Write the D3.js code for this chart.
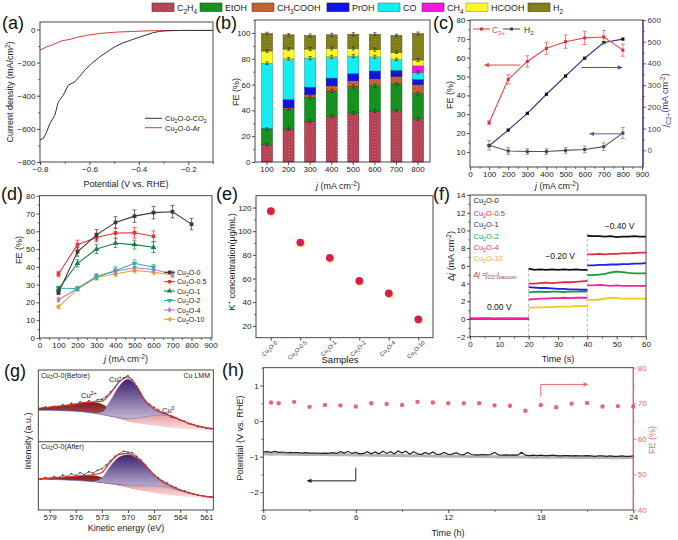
<!DOCTYPE html>
<html><head><meta charset="utf-8">
<script src="https://cdn.jsdelivr.net/npm/d3@7/dist/d3.min.js"></script>
<style>html,body{margin:0;padding:0;background:#fff;}svg{display:block}</style>
</head><body>
<svg id="fig" width="678" height="540"></svg>
<script>
// ======================= DATA =======================
// (a) LSV curves
const aPotCO2 = [-0.8,-0.787,-0.776,-0.76,-0.74,-0.726,-0.706,-0.686,-0.659,-0.639,-0.619,-0.592,-0.558,-0.518,-0.498,-0.464,-0.424,-0.384,-0.344,-0.317,-0.29,-0.223,-0.1];
const aJCO2   = [-665,-659,-629,-568,-518,-437,-397,-337,-316,-282,-246,-206,-165,-125,-105,-81,-60,-40,-20,-12,-8,-6,-6];
const aPotAr  = [-0.8,-0.773,-0.746,-0.713,-0.679,-0.652,-0.612,-0.558,-0.491,-0.424,-0.357,-0.223,-0.1];
const aJAr    = [-125,-105,-91,-69,-60,-48,-36,-24,-16,-12,-8,-6,-6];

// (b) FE distribution (stacked)
const bCurrents = ["100","200","300","400","500","600","700","800"];
const bProducts = ["C2H4","EtOH","CH3COOH","PrOH","CO","CH4","HCOOH","H2"];
const bProductLabels = ["C_{2}H_{4}","EtOH","CH_{3}COOH","PrOH","CO","CH_{4}","HCOOH","H_{2}"];
const bC2H4    = [13.5,25.5,31.5,35.5,38,39.5,40,33.5];
const bEtOH    = [12,15.5,18.5,19.5,20.5,19.5,20.5,19.5];
const bCH3COOH = [0.5,1,2.5,4,4.5,5.5,6,7];
const bPrOH    = [0,6.5,5.5,6,5.5,6,4.5,4];
const bCO      = [50.5,31.5,22.5,16.5,13.5,11,8.5,5.5];
const bCH4     = [0,0,0,0,0,0,0,5];
const bHCOOH   = [9.5,7.5,7,6.5,6,5.5,5.5,4.5];
const bH2      = [13.5,11,10.5,10.5,11,12,13,20.5];
const bErr     = [1,1,1.2,1.2,1.2,1.2,1,1.2];

// (c) C2+ FE, H2 FE, partial current density
const cCurrents = [100,200,300,400,500,600,700,800];
const cFEC2     = [25.5,48.5,58,65,68.5,70.5,71,64];
const cFEC2Err  = [1,2.5,3,3.2,3.5,3.5,3.5,3.2];
const cFEH2     = [13.5,10.5,10.2,10.2,10.8,11.3,12.8,20];
const cFEH2Err  = [2.5,1.8,1.5,1.5,1.5,1.8,2,3];
const cJC2      = [21,93,170,258,342,424,496,512];

// (d) C2+ FE for the catalysts
const dLabels = ["Cu_{2}O-0","Cu_{2}O-0.5","Cu_{2}O-1","Cu_{2}O-2","Cu_{2}O-4","Cu_{2}O-10"];
const dX0   = [100,200,300,400,500,600,700,800];
const dFE0  = [25.5,48.5,58,65,68.5,70.5,71,64];
const dE0   = [1,2.5,3,3.2,3.5,3.5,3.5,3.2];
const dX05  = [100,200,300,400,500,600];
const dFE05 = [36,52.5,56.5,59,59.2,57.2];
const dE05  = [1.5,2.5,2.5,2.8,3,3];
const dX1   = [100,200,300,400,500,600];
const dFE1  = [27.5,42,50,53.3,52.5,51];
const dE1   = [1.5,2,2.5,2.5,2.5,3];
const dX2   = [100,200,300,400,500,600];
const dFE2  = [28,27.8,34.5,38,42,39.8];
const dE2   = [1,1,1.5,2,2,1.5];
const dX4   = [100,200,300,400,500,600,700];
const dFE4  = [21.5,27.8,34.5,37.5,39.5,38.5,36];
const dE4   = [1,1,1.5,2,2,1.5,1.5];
const dX10  = [100,200,300,400,500,600,700];
const dFE10 = [17.5,27.5,34,36,38,37,35.5];
const dE10  = [1,1,1.5,1.5,1.5,1.5,1.5];

// (e) K+ concentration
const eSamples = ["Cu_{2}O-0","Cu_{2}O-0.5","Cu_{2}O-1","Cu_{2}O-2","Cu_{2}O-4","Cu_{2}O-10"];
const eK = [117,90.5,77.5,58,47.5,25.5];

// (f) current difference vs time (three potential steps)
const fTimes = [0,2,4,6,8,10,12,14,16,18,20, 20,22,24,26,28,30,32,34,36,38,40, 40,42,44,46,48,50,52,54,56,58,60];
const fCu0  = [0.03,0.01,0.02,0.04,0.02,0.01,0.03,0.02,0.01,0.02,0.03, 5.7,5.55,5.6,5.55,5.6,5.55,5.6,5.55,5.6,5.55,5.55, 9.4,9.35,9.35,9.3,9.35,9.25,9.3,9.3,9.35,9.3,9.3];
const fCu05 = [0.04,0.02,0.05,0.03,0.06,0.02,0.04,0.05,0.03,0.04,0.05, 4.0,4.0,4.05,4.1,4.05,4.1,4.15,4.15,4.2,4.25,4.3, 7.3,7.3,7.35,7.3,7.35,7.35,7.4,7.4,7.45,7.5,7.5];
const fCu1  = [0.02,0.04,0.03,0.05,0.02,0.03,0.02,0.04,0.03,0.02,0.03, 3.6,3.55,3.5,3.5,3.45,3.4,3.4,3.35,3.35,3.3,3.3, 6.05,6.05,6.1,6.1,6.15,6.15,6.2,6.2,6.25,6.25,6.3];
const fCu2  = [0.01,0.03,0.02,0.03,0.01,0.02,0.03,0.01,0.02,0.03,0.02, 3.0,3.05,3.1,3.05,3.1,3.1,3.05,3.1,3.1,3.1,3.1, 4.95,4.95,5.0,5.1,5.25,5.35,5.3,5.2,5.15,5.15,5.15];
const fCu4  = [0.05,0.03,0.06,0.04,0.05,0.07,0.04,0.05,0.06,0.04,0.05, 2.2,2.25,2.3,2.3,2.35,2.35,2.4,2.35,2.4,2.4,2.4, 3.8,3.8,3.85,3.8,3.75,3.8,3.75,3.75,3.75,3.75,3.75];
const fCu10 = [0.02,0.01,0.03,0.02,0.01,0.02,0.01,0.03,0.02,0.01,0.02, 1.25,1.3,1.3,1.35,1.35,1.4,1.4,1.4,1.45,1.45,1.45, 2.15,2.15,2.2,2.3,2.4,2.35,2.3,2.3,2.3,2.3,2.3];
const fStepLabels = ["0.00 V","−0.20 V","−0.40 V"];

// (g) Cu LMM Auger spectra (component fits on a 1 eV grid)
const gE = [581,580,579,578,577,576,575,574,573,572,571,570,569,568,567,566,565,564,563,562,561,560];
const gBgBefore  = [44,44,43.8,43.5,43,42.5,41.5,40,37.5,35,32,29,26.5,24.5,22.5,21,19.5,18.5,17.5,17,16.5,16];
const gCu2Before = [2,3,4.5,6,8,10,13,15,15,10,6,3,1,0,0,0,0,0,0,0,0,0];
const gCu1Before = [0,0,0,0,0,0,0,0,4,22,44,55,44,22,9,3,1,0,0,0,0,0];
const gCu0Before = [0,0,0,0,0,0,0,0,0,0.5,1.5,3,6,10,14,16,15.5,12,8,5,3,2];
const gBgAfter   = [45,45,44.8,44.5,44,43.5,42.5,41.5,40,38,35.5,33,30,27.5,25,23,21.5,20,19,18,17.5,17];
const gCu2After  = [1,1,2,3,4.5,6,8,9,8,6,4,2,1,0,0,0,0,0,0,0,0,0];
const gCu1After  = [0,0,0,0,0,0,0,1,7,26,40,45,41,30,16,7,2.5,1,0,0,0,0];
const gCu0After  = [0,0,0,0,0,0,0,0,0,0.5,2,3,5,8,10,11,10,8,6,4,2.5,1.5];
const gMeasBefore = [46.0,48.5,47.0,49.5,48.5,51.5,50.0,53.5,52.0,55.5,54.0,57.0,55.0,58.5,59.0,63.0,69.5,76.0,84.5,89.0,92.0,86.0,77.0,66.5,57.5,52.0,48.0,44.5,40.0,38.5,34.0,33.0,30.0,28.5,25.0,24.0,21.0,20.5,18.5,18.0,17.0];
const gMeasAfter  = [45.5,47.5,46.0,49.0,47.5,51.0,49.0,53.0,50.5,54.5,52.0,56.0,54.0,58.0,60.5,66.0,72.0,78.5,82.0,86.0,85.0,84.0,78.5,73.0,66.0,58.5,52.0,47.0,42.5,39.5,35.5,33.0,29.5,28.0,25.5,23.5,22.0,21.0,19.5,19.0,18.0];

// (h) stability test
const hPot = [-0.87,-0.86,-0.88,-0.85,-0.88,-0.87,-0.89,-0.88,
  -0.89,-0.89,-0.90,-0.89,-0.90,-0.90,-0.90,-0.91,
  -0.90,-0.91,-0.89,-0.91,-0.86,-0.90,-0.85,-0.91,
  -0.88,-0.92,-0.91,-0.86,-0.92,-0.87,-0.92,-0.85,
  -0.91,-0.86,-0.92,-0.84,-0.90,-0.85,-0.93,-0.86,
  -0.92,-0.94,-0.88,-0.93,-0.87,-0.94,-0.93,-0.88,
  -0.94,-0.93,-0.89,-0.94,-0.95,-0.88,-0.94,-0.95,
  -0.95,-0.94,-0.95,-0.94,-0.88,-0.95,-0.96,-0.95,
  -0.96,-0.95,-0.96,-0.88,-0.96,-0.97,-0.96,-0.97,
  -0.96,-0.97,-0.97,-0.96,-0.97,-0.98,-0.97,-0.97,
  -0.98,-0.97,-0.98,-0.98,-0.97,-0.98,-0.99,-0.98,
  -0.98,-0.99,-0.98,-0.99,-0.99,-0.98,-0.99,-0.99,-0.98];
const hPotLow = [-0.92,-0.93,-0.92,-0.93,-0.93,-0.94,-0.93,-0.94,-0.94,-0.95,
  -0.94,-0.95,-0.96,-0.95,-0.96,-0.96,-0.97,-0.96,-0.97,-0.98,
  -0.97,-0.98,-0.98,-0.99,-0.98,-0.99,-0.99,-1.00,-0.99,-1.00,
  -1.00,-1.01,-1.00,-1.01,-1.01,-1.02,-1.01,-1.02,-1.01,-1.02,
  -1.02,-1.03,-1.02,-1.03,-1.02,-1.03,-1.03,-1.03,-1.02];
const hFETime = [0.5,1,2,3,4,5,6,7,8,9,10,11,12,13,14,15,16,17,18,19,20,21,22,23,24];
const hFE     = [70.2,70.0,70.4,69.0,69.5,69.4,69.1,70.0,69.8,69.5,70.4,70.2,70.0,70.0,70.0,69.4,69.3,67.9,69.5,68.9,69.9,70.1,69.1,69.2,69.1];

// ======================= HELPERS =======================
const FONT = "'Liberation Sans', Arial, Helvetica, sans-serif";
const svg = d3.select('#fig');
svg.append('rect').attr('width',678).attr('height',540).attr('fill','#fff');
const defs = svg.append('defs');

function rich(g, x, y, str, fs, attrs) {
  const t = g.append('text').attr('x',x).attr('y',y).attr('font-size',fs).attr('font-family',FONT);
  if (attrs) for (const k in attrs) t.attr(k, attrs[k]);
  const re = /([_^~])\{([^}]*)\}/g;
  let last = 0, m, shift = 0;
  function add(s, type) {
    if (!s) return;
    const ts = t.append('tspan').text(s);
    const target = type === '_' ? fs*0.28 : type === '^' ? -fs*0.38 : 0;
    if (target !== shift) { ts.attr('dy', target - shift); shift = target; }
    if (type === '_' || type === '^') ts.attr('font-size', fs*0.72);
    if (type === '~') ts.attr('font-style','italic');
  }
  while ((m = re.exec(str))) { add(str.slice(last, m.index), ''); add(m[2], m[1]); last = re.lastIndex; }
  add(str.slice(last), '');
  return t;
}
function vlabel(g, cx, cy, str, fs, color) {
  return rich(g, 0, 0, str, fs, {transform:`translate(${cx + fs*0.35},${cy}) rotate(-90)`, 'text-anchor':'middle', fill: color||'#222'});
}
function frame(g, x0, y0, x1, y1, colorRight) {
  g.append('rect').attr('x',x0).attr('y',y0).attr('width',x1-x0).attr('height',y1-y0)
    .attr('fill','none').attr('stroke','#333').attr('stroke-width',0.9);
  if (colorRight) g.append('line').attr('x1',x1).attr('x2',x1).attr('y1',y0).attr('y2',y1)
    .attr('stroke',colorRight).attr('stroke-width',1.1);
}
function axis(g, scale, orient, pos, ticks, fmt, minor, color, fs) {
  color = color || '#222';
  const gen = orient==='left'?d3.axisLeft:orient==='right'?d3.axisRight:d3.axisBottom;
  const tr = orient==='bottom'?`translate(0,${pos})`:`translate(${pos},0)`;
  const a = g.append('g').attr('transform',tr)
    .call(gen(scale).tickValues(ticks).tickFormat(fmt||d3.format('')).tickSize(3).tickPadding(1.5).tickSizeOuter(0));
  a.select('.domain').remove();
  a.selectAll('text').attr('font-size',fs||8).attr('font-family',FONT).attr('fill',color);
  a.selectAll('line').attr('stroke',color).attr('stroke-width',0.8);
  if (minor) {
    const b = g.append('g').attr('transform',tr)
      .call(gen(scale).tickValues(minor).tickFormat('').tickSize(1.8).tickSizeOuter(0));
    b.select('.domain').remove();
    b.selectAll('line').attr('stroke',color).attr('stroke-width',0.7);
  }
  return a;
}
function head(g, x, y, ang, color, len, w) {
  len = len||5; w = w||2.2;
  const c=Math.cos(ang), s=Math.sin(ang);
  const bx=x-len*c, by=y-len*s;
  g.append('path').attr('d',`M${x},${y}L${bx - w*s},${by + w*c}L${bx + w*s},${by - w*c}Z`).attr('fill',color);
}
function plabel(x, y, s) {
  svg.append('text').attr('x',x).attr('y',y).attr('font-size',18).attr('font-family',FONT).attr('fill','#111').text(s);
}
function errbar(g, x, y0, y1, color, cap) {
  cap = cap || 2;
  g.append('path').attr('d',`M${x},${y0}V${y1}M${x-cap},${y0}H${x+cap}M${x-cap},${y1}H${x+cap}`)
    .attr('stroke',color).attr('stroke-width',0.7).attr('fill','none');
}

// ======================= TOP LEGEND =======================
const bColors = {C2H4:'#b23b4f', EtOH:'#15921f', CH3COOH:'#b5592a', PrOH:'#1212e6', CO:'#14eef2', CH4:'#f414e4', HCOOH:'#fafa2a', H2:'#7d7a16'};
const bStroke = {C2H4:'#6e1f2a', EtOH:'#0b5a10', CH3COOH:'#6e3415', PrOH:'#0a0a80', CO:'#0a8a8c', CH4:'#8a0a80', HCOOH:'#9a9a10', H2:'#444208'};
function speckle(id, base, dot) {
  const p = defs.append('pattern').attr('id',id).attr('patternUnits','userSpaceOnUse').attr('width',3).attr('height',3);
  p.append('rect').attr('width',3).attr('height',3).attr('fill',base);
  p.append('rect').attr('x',0).attr('y',0).attr('width',1).attr('height',1).attr('fill',dot);
  p.append('rect').attr('x',1.5).attr('y',1.5).attr('width',1).attr('height',1).attr('fill',dot);
}
speckle('patC2H4', bColors.C2H4, '#c96a78');
speckle('patCH3', bColors.CH3COOH, '#d88a52');
speckle('patH2', bColors.H2, '#9a9630');
const bFill = k => k==='C2H4'?'url(#patC2H4)':k==='CH3COOH'?'url(#patCH3)':k==='H2'?'url(#patH2)':bColors[k];
{
  const g = svg.append('g');
  const legX = [152,200,252,327,378,422,466,528];
  bProducts.forEach((k,i)=>{
    g.append('rect').attr('x',legX[i]).attr('y',3).attr('width',22).attr('height',8.5)
      .attr('fill',bFill(k)).attr('stroke',bStroke[k]).attr('stroke-width',0.6);
    rich(g, legX[i]+25, 11, bProductLabels[i], 9, {fill:'#222'});
  });
}

// ======================= (a) =======================
{
  const g = svg.append('g');
  const x = d3.scaleLinear().domain([-0.8,-0.1]).range([40,213]);
  const y = d3.scaleLinear().domain([-800,45]).range([162,22]);
  axis(g,x,'bottom',162,[-0.8,-0.6,-0.4,-0.2],d3.format('.1f'),[-0.7,-0.5,-0.3,-0.1]);
  axis(g,y,'left',40,[0,-200,-400,-600,-800],null,[-100,-300,-500,-700]);
  const ln = d3.line().x(d=>x(d[0])).y(d=>y(d[1]));
  g.append('path').attr('d',ln(d3.zip(aPotAr,aJAr))).attr('fill','none').attr('stroke','#e0393e').attr('stroke-width',1);
  g.append('path').attr('d',ln(d3.zip(aPotCO2,aJCO2))).attr('fill','none').attr('stroke','#333').attr('stroke-width',1);
  frame(g,40,22,213,162);
  g.append('line').attr('x1',145).attr('x2',162).attr('y1',118.3).attr('y2',118.3).attr('stroke','#333').attr('stroke-width',1);
  g.append('line').attr('x1',145).attr('x2',162).attr('y1',127.7).attr('y2',127.7).attr('stroke','#e0393e').attr('stroke-width',1);
  rich(g,165,121,'Cu_{2}O-0-CO_{2}',7.5,{fill:'#222'});
  rich(g,165,130.5,'Cu_{2}O-0-Ar',7.5,{fill:'#222'});
  rich(g,126,187,'Potential (V vs. RHE)',9,{'text-anchor':'middle',fill:'#222'});
  vlabel(g,10,92,'Current density (mA/cm^{2})',9);
}
plabel(2,29,'(a)');

// ======================= (b) =======================
{
  const g = svg.append('g');
  const x = d3.scaleBand().domain(bCurrents).range([255,430]).paddingInner(0.49).paddingOuter(0.3);
  const y = d3.scaleLinear().domain([0,110]).range([162,20]);
  const vals = {C2H4:bC2H4, EtOH:bEtOH, CH3COOH:bCH3COOH, PrOH:bPrOH, CO:bCO, CH4:bCH4, HCOOH:bHCOOH, H2:bH2};
  const table = bCurrents.map((c,i)=>{ const o={c}; bProducts.forEach(k=>o[k]=vals[k][i]); return o; });
  const stacked = d3.stack().keys(bProducts)(table);
  stacked.forEach(s=>{
    g.selectAll(null).data(s).enter().append('rect')
      .attr('x',d=>x(d.data.c)).attr('width',x.bandwidth())
      .attr('y',d=>y(d[1])).attr('height',d=>Math.max(0,y(d[0])-y(d[1])))
      .attr('fill',bFill(s.key)).attr('stroke',bStroke[s.key]).attr('stroke-width',0.5);
  });
  ['C2H4','EtOH','CO','HCOOH','H2'].forEach(k=>{
    const s = stacked.find(t=>t.key===k);
    s.forEach((d,i)=>{ if (d[1]-d[0]>0.1) errbar(g, x(d.data.c)+x.bandwidth()/2, y(d[1]-bErr[i]), y(d[1]+bErr[i]), '#333', 1.6); });
  });
  axis(g,y,'left',255,[0,20,40,60,80,100],null,[10,30,50,70,90,110]);
  axis(g,x,'bottom',162,bCurrents,null,null);
  frame(g,255,20,430,162);
  rich(g,338,189,'~{j} (mA cm^{-2})',9,{'text-anchor':'middle',fill:'#222'});
  vlabel(g,236,92,'FE (%)',9);
}
plabel(215,29,'(b)');

// ======================= (c) =======================
{
  const g = svg.append('g');
  const x = d3.scaleLinear().domain([0,900]).range([470,642]);
  const yl = d3.scaleLinear().domain([2,80]).range([167,20]);
  const yr = d3.scaleLinear().domain([-77,600]).range([167,20]);
  const purple = '#4b2d7f';
  axis(g,x,'bottom',167,[0,100,200,300,400,500,600,700,800,900],null,[50,150,250,350,450,550,650,750,850]);
  axis(g,yl,'left',470,[10,20,30,40,50,60,70,80],null,[15,25,35,45,55,65,75]);
  axis(g,yr,'right',643,[0,100,200,300,400,500,600],null,[50,150,250,350,450,550],purple);
  const lnL = d3.line().x(d=>x(d[0])).y(d=>yl(d[1]));
  const lnR = d3.line().x(d=>x(d[0])).y(d=>yr(d[1]));
  g.append('path').attr('d',lnR(d3.zip(cCurrents,cJC2))).attr('fill','none').attr('stroke','#3c2a8c').attr('stroke-width',1.1);
  cCurrents.forEach((c,i)=>g.append('rect').attr('x',x(c)-1.6).attr('y',yr(cJC2[i])-1.6).attr('width',3.2).attr('height',3.2).attr('fill','#111'));
  g.append('path').attr('d',lnL(d3.zip(cCurrents,cFEH2))).attr('fill','none').attr('stroke','#555').attr('stroke-width',1.1);
  cCurrents.forEach((c,i)=>{
    errbar(g,x(c),yl(cFEH2[i]-cFEH2Err[i]),yl(cFEH2[i]+cFEH2Err[i]),'#777',2);
    g.append('rect').attr('x',x(c)-1.5).attr('y',yl(cFEH2[i])-1.5).attr('width',3).attr('height',3).attr('fill','#444');
  });
  g.append('path').attr('d',lnL(d3.zip(cCurrents,cFEC2))).attr('fill','none').attr('stroke','#e8474c').attr('stroke-width',1.1);
  cCurrents.forEach((c,i)=>{
    errbar(g,x(c),yl(cFEC2[i]-cFEC2Err[i]),yl(cFEC2[i]+cFEC2Err[i]),'#e8474c',2);
    g.append('rect').attr('x',x(c)-1.5).attr('y',yl(cFEC2[i])-1.5).attr('width',3).attr('height',3).attr('fill','#d8333a');
  });
  g.append('line').attr('x1',x(262)).attr('x2',x(78)).attr('y1',yl(56.1)).attr('y2',yl(56.1)).attr('stroke','#e8474c').attr('stroke-width',1);
  head(g,x(78)-1,yl(56.1),Math.PI,'#e8474c');
  g.append('line').attr('x1',x(584)).attr('x2',x(794)).attr('y1',yl(54.8)).attr('y2',yl(54.8)).attr('stroke','#5a4a9a').attr('stroke-width',1);
  head(g,x(794)+1,yl(54.8),0,'#5a4a9a');
  g.append('line').attr('x1',x(794)).attr('x2',x(628)).attr('y1',yl(19.6)).attr('y2',yl(19.6)).attr('stroke','#5a5a8a').attr('stroke-width',1);
  head(g,x(628)-1,yl(19.6),Math.PI,'#5a5a8a');
  frame(g,470,20,643,167,purple);
  g.append('line').attr('x1',473).attr('x2',490).attr('y1',29).attr('y2',29).attr('stroke','#e8474c').attr('stroke-width',1.1);
  g.append('rect').attr('x',480).attr('y',27.5).attr('width',3).attr('height',3).attr('fill','#d8333a');
  rich(g,492,32.5,'C_{2+}',8.5,{fill:'#e8474c'});
  g.append('line').attr('x1',503).attr('x2',520).attr('y1',29).attr('y2',29).attr('stroke','#555').attr('stroke-width',1.1);
  g.append('rect').attr('x',510).attr('y',27.5).attr('width',3).attr('height',3).attr('fill','#444');
  rich(g,524,32.5,'H_{2}',8.5,{fill:'#333'});
  rich(g,557,189,'~{j} (mA cm^{-2})',9,{'text-anchor':'middle',fill:'#222'});
  vlabel(g,450,95,'FE (%)',9);
  vlabel(g,665,100,'~{j}_{C2+}(mA cm^{-2})',9,purple);
}
plabel(433,29,'(c)');

// ======================= (d) =======================
{
  const g = svg.append('g');
  const x = d3.scaleLinear().domain([0,900]).range([39.5,210.5]);
  const y = d3.scaleLinear().domain([0,80]).range([338,195.7]);
  axis(g,x,'bottom',338,[0,100,200,300,400,500,600,700,800,900],null,[50,150,250,350,450,550,650,750,850]);
  axis(g,y,'left',39.5,[0,10,20,30,40,50,60,70,80],null,[5,15,25,35,45,55,65,75]);
  const series = [
    {xs:dX0, ys:dFE0, es:dE0, c:'#3a3a3a', sym:d3.symbolSquare, rot:0},
    {xs:dX05, ys:dFE05, es:dE05, c:'#e8323c', sym:d3.symbolSquare, rot:0},
    {xs:dX1, ys:dFE1, es:dE1, c:'#1d7a45', sym:d3.symbolTriangle, rot:0},
    {xs:dX2, ys:dFE2, es:dE2, c:'#2fb39a', sym:d3.symbolTriangle, rot:180},
    {xs:dX4, ys:dFE4, es:dE4, c:'#b57cc8', sym:d3.symbolDiamond, rot:0},
    {xs:dX10, ys:dFE10, es:dE10, c:'#e8a62a', sym:d3.symbolTriangle, rot:-90}
  ];
  const ln = d3.line().x(d=>x(d[0])).y(d=>y(d[1]));
  series.slice().reverse().forEach(s=>{
    g.append('path').attr('d',ln(d3.zip(s.xs,s.ys))).attr('fill','none').attr('stroke',s.c).attr('stroke-width',1.1);
    s.xs.forEach((xv,i)=>{
      errbar(g,x(xv),y(s.ys[i]-s.es[i]),y(s.ys[i]+s.es[i]),s.c,2);
      g.append('path').attr('d',d3.symbol().type(s.sym).size(14)()).attr('transform',`translate(${x(xv)},${y(s.ys[i])}) rotate(${s.rot})`).attr('fill',s.c);
    });
  });
  frame(g,39.5,195.7,212,338);
  const rows = [272.3,281.7,291,300.5,310,319.3];
  series.forEach((s,i)=>{
    g.append('line').attr('x1',164).attr('x2',175).attr('y1',rows[i]).attr('y2',rows[i]).attr('stroke',s.c).attr('stroke-width',1.1);
    g.append('path').attr('d',d3.symbol().type(s.sym).size(12)()).attr('transform',`translate(169.5,${rows[i]}) rotate(${s.rot})`).attr('fill',s.c);
    rich(g,177,rows[i]+2.6,dLabels[i],7,{fill:'#222'});
  });
  rich(g,126,362,'~{j} (mA cm^{-2})',9,{'text-anchor':'middle',fill:'#222'});
  vlabel(g,19,250,'FE (%)',9);
}
plabel(1,200,'(d)');

// ======================= (e) =======================
{
  const g = svg.append('g');
  const x = d3.scalePoint().domain(eSamples).range([256,433]).padding(0.5);
  const y = d3.scaleLinear().domain([10,130]).range([337.7,195.7]);
  axis(g,y,'left',256,[20,40,60,80,100,120],null,[30,50,70,90,110]);
  const ax = axis(g,x,'bottom',337.7,eSamples,null,null);
  ax.selectAll('text').remove();
  eSamples.forEach(s=>{
    rich(g,0,0,s,5.8,{transform:`translate(${x(s)+7},${343}) rotate(-45)`,'text-anchor':'end',fill:'#333'});
  });
  eSamples.forEach((s,i)=>{
    g.append('circle').attr('cx',x(s)+0.6).attr('cy',y(eK[i])+0.6).attr('r',4).attr('fill','#f0d040');
    g.append('circle').attr('cx',x(s)).attr('cy',y(eK[i])).attr('r',3.8).attr('fill','#d81b4a');
  });
  frame(g,256,195.7,433,337.7);
  g.append('text').attr('x',340).attr('y',363).attr('text-anchor','middle').attr('font-size',9.5).attr('font-family',FONT).attr('fill','#111').text('Samples');
  vlabel(g,232,262,'K^{+} concentration(μg/mL)',9);
}
plabel(216,200,'(e)');

// ======================= (f) =======================
{
  const g = svg.append('g');
  const x = d3.scaleLinear().domain([0,60]).range([470,646]);
  const y = d3.scaleLinear().domain([-2,14]).range([336.7,195]);
  axis(g,x,'bottom',336.7,[0,10,20,30,40,50,60],null,[5,15,25,35,45,55]);
  axis(g,y,'left',470,[-2,0,2,4,6,8,10,12,14],null,[-1,1,3,5,7,9,11,13]);
  g.append('line').attr('x1',x(20)).attr('x2',x(20)).attr('y1',y(-2)).attr('y2',y(5.9)).attr('stroke','#aaa').attr('stroke-width',0.9).attr('stroke-dasharray','3,2');
  g.append('line').attr('x1',x(40)).attr('x2',x(40)).attr('y1',y(-2)).attr('y2',y(9.7)).attr('stroke','#aaa').attr('stroke-width',0.9).attr('stroke-dasharray','3,2');
  const fSeries = [
    {v:fCu0, c:'#111111', tc:'#111111', lab:'Cu_{2}O-0'},
    {v:fCu05, c:'#e62a3c', tc:'#e02a3a', lab:'Cu_{2}O-0.5'},
    {v:fCu1, c:'#1e1ef0', tc:'#2a2aa0', lab:'Cu_{2}O-1'},
    {v:fCu2, c:'#1a9a3a', tc:'#1a9a4a', lab:'Cu_{2}O-2'},
    {v:fCu4, c:'#ff1fa0', tc:'#e8305a', lab:'Cu_{2}O-4'},
    {v:fCu10, c:'#f0c820', tc:'#e0b040', lab:'Cu_{2}O-10'}
  ];
  const ln = d3.line().x(d=>x(d[0])).y(d=>y(d[1]));
  const order = [0,5,3,2,1,4];
  order.forEach(k=>{
    const s = fSeries[k];
    [[0,11],[11,22],[22,33]].forEach(([a,b])=>{
      g.append('path').attr('d',ln(d3.zip(fTimes.slice(a,b), s.v.slice(a,b)))).attr('fill','none').attr('stroke',s.c).attr('stroke-width',1.8);
    });
  });
  const lt = [[10,1.0],[30.7,6.8],[51,10.2]];
  fStepLabels.forEach((t,i)=>{
    g.append('text').attr('x',x(lt[i][0])).attr('y',y(lt[i][1])).attr('text-anchor','middle').attr('font-size',8.5).attr('font-family',FONT).attr('fill','#111').text(t);
  });
  frame(g,470,195,646,336.7);
  const rows = [203,215.5,227,238.5,249.5,261];
  fSeries.forEach((s,i)=>rich(g,473.5,rows[i],s.lab,7.5,{fill:s.tc}));
  rich(g,473.5,277,'Δ~{j} =~{j}_{CO}-~{j}_{vacuum}',7,{fill:'#a03040','font-style':'italic'});
  rich(g,558,362,'Time (s)',9,{'text-anchor':'middle',fill:'#222'});
  vlabel(g,451,256,'Δ~{j} (mA cm^{-2})',9);
}
plabel(433,200,'(f)');

// ======================= (g) =======================
{
  const g = svg.append('g');
  const x = d3.scaleLinear().domain([580.3,560.2]).range([38.3,213.3]);
  const yTop = d3.scaleLinear().domain([0,100]).range([441.7,370]);
  const yBot = d3.scaleLinear().domain([0,100]).range([510,441.7]);
  function grad(id, c1, c2) {
    const lg = defs.append('linearGradient').attr('id',id).attr('x1',0).attr('y1',0).attr('x2',0).attr('y2',1);
    lg.append('stop').attr('offset','0%').attr('stop-color',c1);
    lg.append('stop').attr('offset','100%').attr('stop-color',c2);
  }
  grad('gCu2','#7e1a1e','#d58a8a');
  grad('gCu1','#3b2270','#e4dcef');
  grad('gCu0','#e08c8c','#fbe4e4');
  const clip = defs.append('clipPath').attr('id','clipG');
  clip.append('rect').attr('x',38.3).attr('y',370).attr('width',175).attr('height',140);
  const gc = g.append('g').attr('clip-path','url(#clipG)');
  const meE = d3.range(580, 559.9, -0.5);
  function spectrum(y, bg, cu2, cu1, cu0, meas) {
    const curve = d3.curveMonotoneX;
    const idx = d3.range(gE.length);
    const ar = (lo, hi) => d3.area().curve(curve).x(i=>x(gE[i])).y0(i=>y(lo(i))).y1(i=>y(hi(i)))(idx);
    gc.append('path').attr('d',ar(i=>bg[i], i=>bg[i]+cu2[i])).attr('fill','url(#gCu2)');
    gc.append('path').attr('d',ar(i=>bg[i], i=>bg[i]+cu0[i])).attr('fill','url(#gCu0)');
    gc.append('path').attr('d',ar(i=>bg[i]+cu0[i], i=>bg[i]+cu0[i]+cu1[i])).attr('fill','url(#gCu1)').attr('stroke','#5a4a9a').attr('stroke-width',0.4);
    const env = d3.line().curve(curve).x(i=>x(gE[i])).y(i=>y(bg[i]+cu2[i]+cu1[i]+cu0[i]))(idx);
    gc.append('path').attr('d',d3.line().x((v,i)=>x(meE[i])).y(v=>y(v))(meas)).attr('fill','none').attr('stroke','#444').attr('stroke-width',0.7);
    meas.forEach((v,i)=>gc.append('circle').attr('cx',x(meE[i])).attr('cy',y(v)).attr('r',0.8).attr('fill','#333'));
    gc.append('path').attr('d',env).attr('fill','none').attr('stroke','#e03030').attr('stroke-width',1.2);
  }
  spectrum(yTop, gBgBefore, gCu2Before, gCu1Before, gCu0Before, gMeasBefore);
  spectrum(yBot, gBgAfter, gCu2After, gCu1After, gCu0After, gMeasAfter);
  axis(g,x,'bottom',510,[579,576,573,570,567,564,561],null,null);
  frame(g,38.3,370,213.3,510);
  g.append('line').attr('x1',38.3).attr('x2',213.3).attr('y1',441.7).attr('y2',441.7).attr('stroke','#333').attr('stroke-width',0.9);
  rich(g,41,377.5,'Cu_{2}O-0(Before)',7,{fill:'#222'});
  rich(g,210,377.5,'Cu LMM',7,{fill:'#222','text-anchor':'end'});
  rich(g,109,382,'Cu^{+}',7.5,{fill:'#222'});
  rich(g,81,398,'Cu^{2+}',7.5,{fill:'#222'});
  rich(g,162,413,'Cu^{0}',7.5,{fill:'#222'});
  rich(g,41,448.5,'Cu_{2}O-0(After)',7,{fill:'#222'});
  rich(g,126,531,'Kinetic energy (eV)',9,{'text-anchor':'middle',fill:'#222'});
  vlabel(g,28,441,'Intensity (a.u.)',9);
}
plabel(4,377,'(g)');

// ======================= (h) =======================
{
  const g = svg.append('g');
  const x = d3.scaleLinear().domain([0,24]).range([263.3,633.3]);
  const yl = d3.scaleLinear().domain([-2.5,1.5]).range([510,367.7]);
  const yr = d3.scaleLinear().domain([40,80]).range([510,367.7]);
  const red = '#f0646e';
  axis(g,x,'bottom',510,[0,6,12,18,24],null,[3,9,15,21]);
  axis(g,yl,'left',263.3,[-2,-1,0,1],null,[-2.5,-1.5,-0.5,0.5,1.5]);
  axis(g,yr,'right',633.3,[40,50,60,70,80],null,[45,55,65,75],red);
  const tFine = d3.range(0, 24.001, 0.25);
  const tCoarse = d3.range(0, 24.001, 0.5);
  g.append('path').attr('d',d3.line().x((v,i)=>x(tCoarse[i])).y(v=>yl(v))(hPotLow)).attr('fill','none').attr('stroke','#b5b5b5').attr('stroke-width',3);
  g.append('path').attr('d',d3.line().x((v,i)=>x(tFine[i])).y(v=>yl(v))(hPot)).attr('fill','none').attr('stroke','#222').attr('stroke-width',1.2);
  hFETime.forEach((t,i)=>g.append('circle').attr('cx',x(t)).attr('cy',yr(hFE[i])).attr('r',2.2).attr('fill',red));
  g.append('path').attr('d',`M${x(6)},${yl(-1.31)}V${yl(-1.68)}H${x(2.9)}`).attr('fill','none').attr('stroke','#222').attr('stroke-width',1);
  head(g,x(2.8),yl(-1.68),Math.PI,'#222');
  g.append('path').attr('d',`M${x(18)},${yr(71.8)}V${yr(75.3)}H${x(21)}`).attr('fill','none').attr('stroke',red).attr('stroke-width',1);
  head(g,x(21.1),yr(75.3),0,red);
  frame(g,263.3,367.7,633.3,510,red);
  rich(g,448,536,'Time (h)',9,{'text-anchor':'middle',fill:'#222'});
  vlabel(g,240,438,'Potential (V vs. RHE)',9);
  vlabel(g,652,440,'FE (%)',9,red);
}
plabel(222,376,'(h)');
</script>
</body></html>
